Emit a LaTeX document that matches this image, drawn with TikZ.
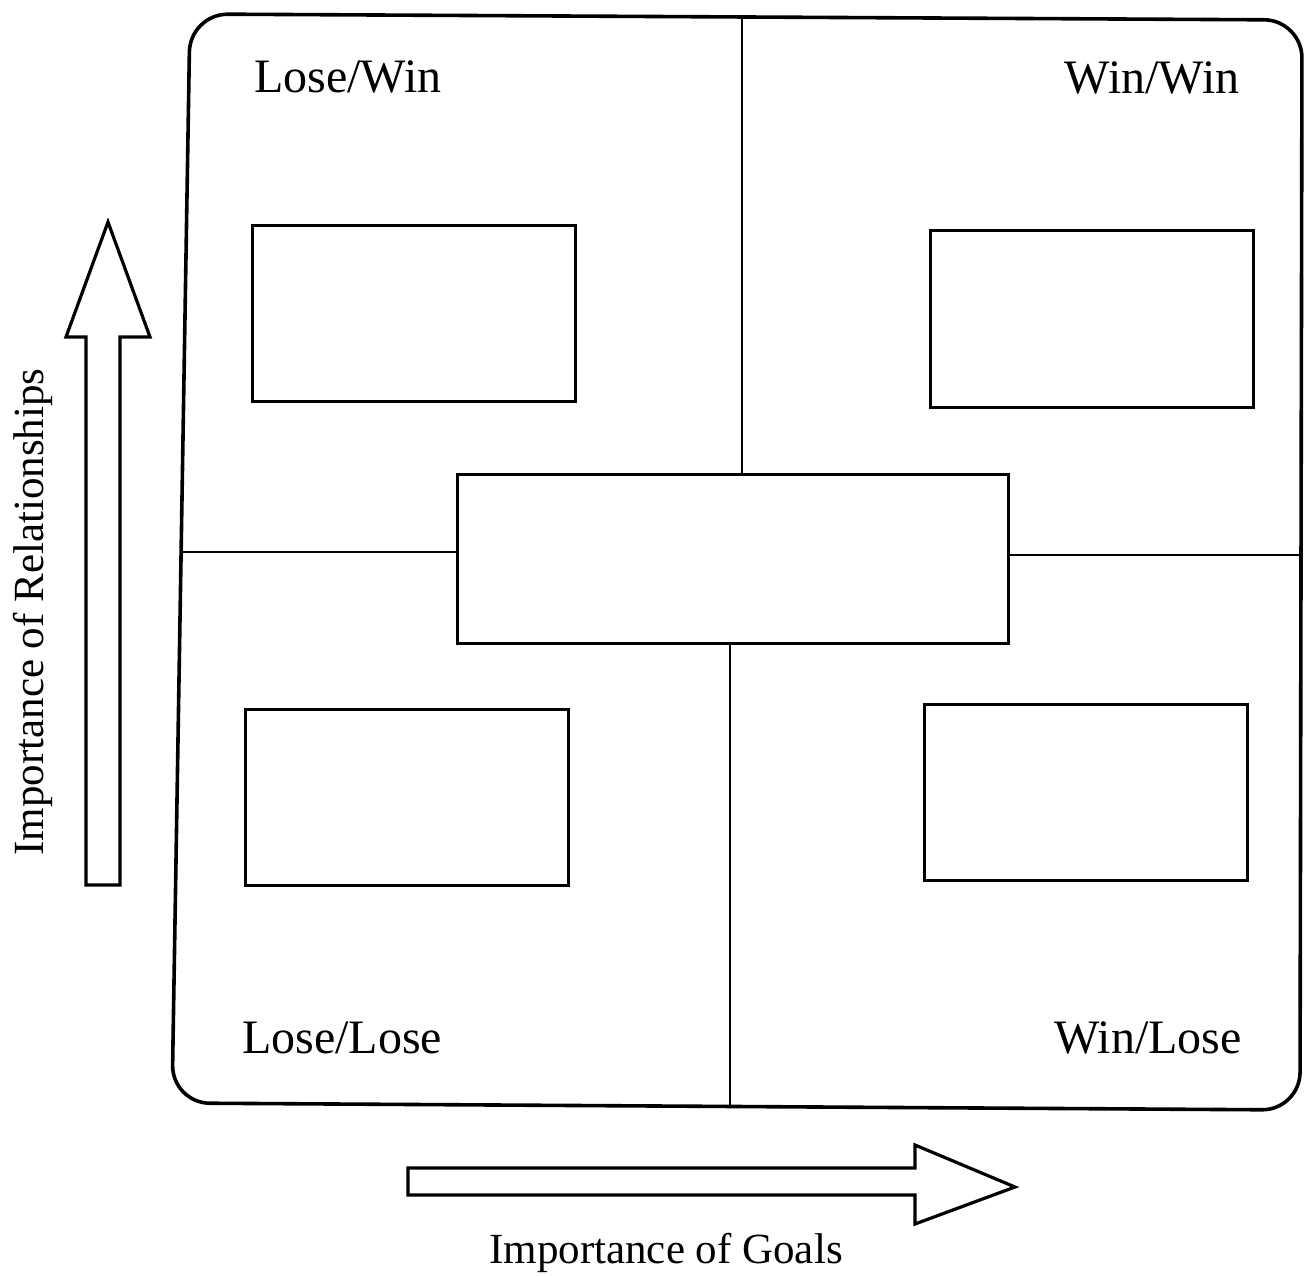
\documentclass[tikz,border=0pt]{standalone}
\usepackage{fontspec}
\setmainfont{Liberation Serif}
\begin{document}
\begin{tikzpicture}[x=1pt,y=-1pt,
  box/.style={draw,line width=3pt,inner sep=0pt,minimum width=323pt,minimum height=176pt},
  quad/.style={font=\fontsize{48}{56}\selectfont,inner sep=0pt},
  axis/.style={font=\fontsize{43}{50}\selectfont,inner sep=0pt},
  divider/.style={line width=2.6pt},
  blockarrow/.style={draw,line width=3.2pt,line join=miter}]
\useasboundingbox (0,0) rectangle (1304,1276);
% outer frame
\draw[line width=3.6pt,rounded corners=38pt] (190,14) -- (1302,20) -- (1300,1110) -- (172,1103) -- cycle;
% boxes
\node[box] (tl) at (413.5,313.5) {};
\node[box] (tr) at (1092,319) {};
\node[box] (bl) at (406.5,797) {};
\node[box] (br) at (1086,792.5) {};
\node[box,minimum width=551pt,minimum height=169pt] (c) at (732.5,558.5) {};
% divider end points on the frame
\coordinate (dt) at (742,16);
\coordinate (db) at (730,1107);
\coordinate (dl) at (180,552);
\coordinate (dr) at (1301,555);
\draw[divider] (dt) -- (dt |- c.north);
\draw[divider] (c.south -| db) -- (db);
\draw[divider] (dl) -- (dl -| c.west);
\draw[divider] (c.east |- dr) -- (dr);
% quadrant labels
\node[quad] (lw) at (348,77) {Lose/Win};
\node[quad] (ww) at (1152,78) {Win/Win};
\node[quad] (ll) at (342,1038) {Lose/Lose};
\node[quad] (wl) at (1148,1038) {Win/Lose};
% axis arrows
\draw[blockarrow] (86,885) -- (86,337) -- (66,337) -- (108,222) -- (150,337) -- (120,337) -- (120,885) -- cycle;
\draw[blockarrow] (408,1168) -- (915,1168) -- (915,1145) -- (1015,1187) -- (915,1224) -- (915,1195) -- (408,1195) -- cycle;
% axis labels
\node[axis,rotate=90] (rel) at (33,612) {Importance of Relationships};
\node[axis] (goals) at (666,1253) {Importance of Goals};
\end{tikzpicture}
\end{document}
